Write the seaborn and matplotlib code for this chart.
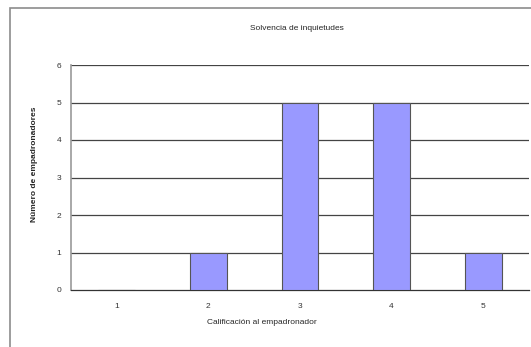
import matplotlib
matplotlib.use("Agg")
import matplotlib.pyplot as plt
from matplotlib.patches import Rectangle
import seaborn as sns
import pandas as pd

categories = ["1", "2", "3", "4", "5"]
counts = [0, 1, 5, 5, 1]
y_ticks = [0, 1, 2, 3, 4, 5, 6]
title = "Solvencia de inquietudes"
x_label = "Calificación al empadronador"
y_label = "Número de empadronadores"

sns.set_style("white")
plt.rcParams["font.family"] = ["Liberation Sans", "DejaVu Sans"]

W, H = 531, 347
fig = plt.figure(figsize=(W / 100, H / 100), dpi=100)

# outer chart frame
fig.patches.append(Rectangle((10 / W, -0.1), 1.2, 1 - 8 / H + 0.1, transform=fig.transFigure,
                             fill=False, edgecolor="#8c8c8c", linewidth=1.2))

left, right, top, bottom = 71, 529, 65, 290
ax = fig.add_axes([left / W, 1 - bottom / H, (right - left) / W, (bottom - top) / H])

df = pd.DataFrame({"cal": categories, "n": counts})
sns.barplot(data=df, x="cal", y="n", ax=ax, color="#9999FF", saturation=1,
            width=0.4, edgecolor="#555555", linewidth=0.8, zorder=3)

ax.set_ylim(0, 6)
ax.set_xlim(-0.5, len(categories) - 0.5)
ax.set_yticks(y_ticks)
ax.set_yticklabels([str(v) for v in y_ticks], fontsize=6, color="#333333")
ax.set_xticks(range(len(categories)))
ax.set_xticklabels(categories, fontsize=6, color="#333333")
ax.set_xticks([i - 0.5 for i in range(len(categories) + 1)], minor=True)
ax.tick_params(axis="x", which="major", length=0, pad=9)
ax.tick_params(axis="x", which="minor", length=3, width=0.8, color="#555555", direction="out")
ax.tick_params(axis="y", length=3, width=0.8, color="#555555", direction="out", pad=4)

for v in y_ticks[1:]:
    ax.axhline(v, color="#444444", linewidth=0.9, zorder=1)

for s in ["top", "right"]:
    ax.spines[s].set_visible(False)
ax.spines["left"].set_color("#999999")
ax.spines["left"].set_linewidth(1.2)
ax.spines["bottom"].set_color("#333333")
ax.spines["bottom"].set_linewidth(0.9)

ax.set_xlabel(x_label, fontsize=6, labelpad=10)
ax.xaxis.set_label_coords((262 - left) / (right - left), -(323 - bottom) / (bottom - top))
ax.xaxis.label.set_va("center")
ax.set_ylabel(y_label, fontsize=6, fontweight="bold")
ax.yaxis.set_label_coords(-(left - 35) / (right - left), (bottom - 164) / (bottom - top))
ax.yaxis.label.set_va("center")
fig.text(297 / W, 1 - 28 / H, title, fontsize=6, ha="center", va="center")

fig.savefig("out.png", dpi=100)
